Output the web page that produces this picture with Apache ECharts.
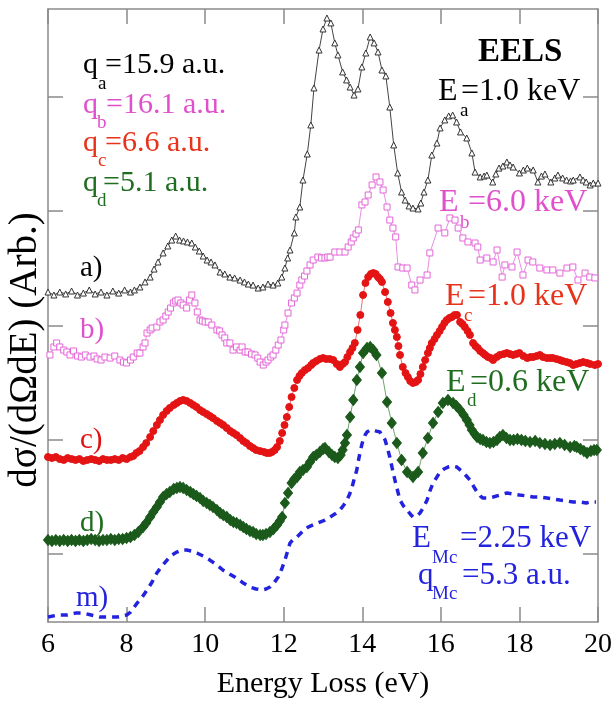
<!DOCTYPE html>
<html>
<head>
<meta charset="utf-8" />
<title>EELS</title>
<script src="https://cdn.jsdelivr.net/npm/echarts@6/dist/echarts.min.js"></script>
<style>
html, body { margin: 0; padding: 0; background: #fff; }
#main { width: 613px; height: 711px; }
</style>
</head>
<body>
<div id="main"></div>
<script>
// energy loss (eV) vs cross section, each curve offset vertically (arb. units)
var yTickValues = [0, 1, 2, 3, 4];

var curveA = [[6.0,2.293],[6.15,2.267],[6.3,2.293],[6.45,2.276],[6.6,2.302],[6.75,2.267],[6.9,2.284],[7.05,2.311],[7.2,2.276],[7.35,2.293],[7.5,2.267],[7.65,2.302],[7.8,2.284],[7.95,2.311],[8.1,2.293],[8.2,2.311],[8.34,2.337],[8.47,2.381],[8.6,2.424],[8.7,2.494],[8.8,2.556],[8.93,2.635],[9.05,2.696],[9.15,2.748],[9.25,2.783],[9.35,2.748],[9.45,2.740],[9.55,2.731],[9.66,2.722],[9.75,2.687],[9.85,2.652],[9.95,2.608],[10.05,2.573],[10.15,2.556],[10.25,2.530],[10.38,2.468],[10.5,2.451],[10.63,2.424],[10.75,2.416],[10.89,2.398],[11.0,2.381],[11.1,2.363],[11.22,2.354],[11.35,2.328],[11.47,2.337],[11.6,2.363],[11.73,2.354],[11.85,2.372],[11.95,2.424],[12.03,2.503],[12.1,2.591],[12.16,2.661],[12.27,2.810],[12.31,2.950],[12.41,3.037],[12.49,3.273],[12.6,3.501],[12.69,3.755],[12.77,4.079],[12.9,4.411],[13.0,4.595],[13.1,4.691],[13.2,4.648],[13.3,4.473],[13.38,4.368],[13.5,4.219],[13.6,4.149],[13.69,4.087],[13.79,4.017],[13.89,4.070],[13.99,4.263],[14.09,4.385],[14.2,4.525],[14.3,4.473],[14.4,4.394],[14.5,4.236],[14.6,4.184],[14.7,3.912],[14.8,3.580],[14.9,3.335],[15.0,3.168],[15.09,3.098],[15.19,3.046],[15.29,3.028],[15.42,3.020],[15.49,3.072],[15.57,3.168],[15.67,3.273],[15.77,3.492],[15.9,3.597],[15.98,3.729],[16.1,3.799],[16.2,3.834],[16.3,3.842],[16.4,3.781],[16.5,3.694],[16.66,3.641],[16.79,3.510],[16.87,3.343],[17.0,3.300],[17.1,3.308],[17.17,3.317],[17.32,3.256],[17.4,3.326],[17.48,3.378],[17.58,3.396],[17.68,3.431],[17.76,3.405],[17.84,3.387],[18.0,3.335],[18.1,3.361],[18.2,3.378],[18.35,3.361],[18.47,3.256],[18.56,3.308],[18.65,3.326],[18.8,3.256],[18.9,3.291],[18.98,3.317],[19.1,3.291],[19.2,3.273],[19.3,3.265],[19.37,3.273],[19.54,3.300],[19.62,3.273],[19.7,3.256],[19.8,3.230],[19.88,3.247],[20.0,3.247]];

var curveB = [[6.05,1.742],[6.15,1.812],[6.22,1.847],[6.3,1.812],[6.4,1.785],[6.48,1.768],[6.56,1.742],[6.65,1.777],[6.75,1.733],[6.85,1.724],[6.95,1.742],[7.07,1.724],[7.17,1.733],[7.25,1.707],[7.35,1.698],[7.45,1.724],[7.58,1.715],[7.7,1.733],[7.83,1.698],[7.92,1.680],[8.0,1.672],[8.1,1.698],[8.17,1.724],[8.27,1.759],[8.34,1.759],[8.42,1.812],[8.47,1.847],[8.52,1.934],[8.6,1.961],[8.65,1.978],[8.77,1.987],[8.85,2.031],[8.93,2.048],[9.0,2.083],[9.06,2.118],[9.12,2.153],[9.19,2.197],[9.25,2.214],[9.31,2.223],[9.38,2.197],[9.44,2.179],[9.53,2.153],[9.6,2.223],[9.66,2.267],[9.74,2.197],[9.8,2.118],[9.87,2.048],[9.93,2.039],[10.0,2.031],[10.08,2.031],[10.17,2.004],[10.3,1.961],[10.37,1.952],[10.43,1.917],[10.5,1.891],[10.55,1.847],[10.63,1.847],[10.71,1.785],[10.8,1.812],[10.89,1.785],[10.94,1.812],[11.02,1.768],[11.09,1.768],[11.18,1.750],[11.27,1.742],[11.34,1.715],[11.4,1.680],[11.48,1.654],[11.55,1.680],[11.6,1.698],[11.67,1.724],[11.73,1.742],[11.8,1.785],[11.86,1.829],[11.93,1.873],[12.0,1.961],[12.03,2.004],[12.11,2.109],[12.2,2.197],[12.27,2.241],[12.34,2.284],[12.41,2.354],[12.46,2.398],[12.53,2.433],[12.59,2.477],[12.67,2.530],[12.75,2.573],[12.87,2.599],[12.96,2.591],[13.05,2.591],[13.12,2.599],[13.18,2.599],[13.3,2.643],[13.43,2.643],[13.56,2.643],[13.64,2.687],[13.72,2.731],[13.77,2.766],[13.84,2.801],[13.9,2.836],[13.99,3.055],[14.07,3.081],[14.15,3.142],[14.25,3.230],[14.35,3.300],[14.45,3.256],[14.53,3.186],[14.63,3.037],[14.7,2.923],[14.78,2.853],[14.85,2.775],[14.91,2.512],[15.03,2.503],[15.14,2.503],[15.26,2.354],[15.34,2.311],[15.47,2.398],[15.65,2.442],[15.72,2.635],[15.93,2.853],[16.1,2.810],[16.23,2.941],[16.36,2.923],[16.44,2.853],[16.56,2.766],[16.69,2.731],[16.87,2.722],[16.94,2.687],[17.0,2.573],[17.17,2.591],[17.33,2.556],[17.43,2.661],[17.56,2.424],[17.63,2.530],[17.81,2.512],[17.94,2.643],[18.09,2.442],[18.22,2.573],[18.34,2.556],[18.52,2.503],[18.7,2.486],[18.85,2.486],[19.03,2.459],[19.21,2.503],[19.36,2.512],[19.49,2.398],[19.67,2.459],[19.79,2.424],[19.92,2.416]];

var curveC = [[6.0,0.849],[6.1,0.840],[6.2,0.849],[6.3,0.831],[6.4,0.823],[6.5,0.840],[6.6,0.831],[6.7,0.823],[6.8,0.831],[6.9,0.814],[7.0,0.823],[7.1,0.831],[7.2,0.823],[7.3,0.814],[7.4,0.831],[7.5,0.823],[7.6,0.823],[7.7,0.831],[7.8,0.823],[7.9,0.840],[8.0,0.831],[8.1,0.849],[8.17,0.858],[8.25,0.884],[8.33,0.901],[8.42,0.936],[8.5,0.971],[8.6,1.024],[8.68,1.076],[8.77,1.129],[8.85,1.173],[8.93,1.217],[9.02,1.252],[9.1,1.278],[9.2,1.304],[9.28,1.322],[9.36,1.339],[9.44,1.348],[9.53,1.339],[9.62,1.322],[9.7,1.304],[9.78,1.287],[9.87,1.260],[9.95,1.243],[10.04,1.225],[10.12,1.208],[10.2,1.190],[10.3,1.164],[10.38,1.147],[10.46,1.129],[10.55,1.103],[10.64,1.076],[10.72,1.059],[10.8,1.041],[10.89,1.015],[10.97,0.989],[11.05,0.971],[11.14,0.945],[11.22,0.928],[11.3,0.910],[11.4,0.901],[11.5,0.893],[11.57,0.884],[11.64,0.884],[11.7,0.893],[11.77,0.910],[11.83,0.936],[11.9,0.989],[11.96,1.059],[12.02,1.129],[12.08,1.199],[12.14,1.287],[12.2,1.374],[12.27,1.453],[12.34,1.523],[12.4,1.558],[12.46,1.584],[12.54,1.610],[12.62,1.628],[12.7,1.654],[12.75,1.672],[12.83,1.689],[12.92,1.707],[13.0,1.715],[13.08,1.707],[13.17,1.707],[13.26,1.698],[13.35,1.663],[13.43,1.637],[13.5,1.663],[13.56,1.680],[13.62,1.724],[13.69,1.768],[13.75,1.803],[13.81,1.847],[13.88,1.961],[13.95,2.092],[14.02,2.267],[14.08,2.372],[14.15,2.424],[14.22,2.451],[14.28,2.459],[14.34,2.451],[14.4,2.424],[14.45,2.407],[14.5,2.381],[14.58,2.293],[14.65,2.206],[14.72,2.109],[14.78,2.022],[14.83,1.961],[14.88,1.899],[14.92,1.820],[14.96,1.742],[15.03,1.637],[15.1,1.584],[15.16,1.549],[15.22,1.514],[15.29,1.497],[15.36,1.505],[15.42,1.523],[15.48,1.575],[15.54,1.637],[15.6,1.698],[15.67,1.759],[15.72,1.803],[15.77,1.847],[15.84,1.882],[15.9,1.917],[15.97,1.952],[16.03,1.987],[16.09,2.022],[16.15,2.048],[16.22,2.066],[16.28,2.074],[16.35,2.092],[16.41,2.092],[16.49,2.031],[16.55,2.013],[16.61,1.987],[16.68,1.952],[16.74,1.917],[16.82,1.847],[16.88,1.820],[16.94,1.803],[17.0,1.777],[17.07,1.759],[17.13,1.742],[17.2,1.724],[17.27,1.715],[17.33,1.698],[17.42,1.724],[17.5,1.742],[17.6,1.750],[17.68,1.759],[17.76,1.750],[17.84,1.742],[17.92,1.750],[18.0,1.759],[18.1,1.733],[18.2,1.715],[18.28,1.724],[18.35,1.724],[18.44,1.733],[18.52,1.742],[18.6,1.724],[18.7,1.715],[18.78,1.715],[18.85,1.715],[18.94,1.707],[19.03,1.698],[19.1,1.689],[19.2,1.680],[19.28,1.672],[19.37,1.654],[19.45,1.663],[19.54,1.672],[19.62,1.680],[19.72,1.672],[19.8,1.663],[19.92,1.654],[20.0,1.663]];

var curveD = [[6.0,0.122],[6.1,0.114],[6.2,0.122],[6.3,0.114],[6.4,0.122],[6.5,0.114],[6.6,0.122],[6.7,0.114],[6.8,0.122],[6.9,0.114],[7.0,0.122],[7.1,0.131],[7.2,0.122],[7.3,0.114],[7.4,0.122],[7.5,0.122],[7.6,0.131],[7.7,0.122],[7.8,0.131],[7.9,0.131],[8.0,0.140],[8.1,0.149],[8.2,0.166],[8.3,0.192],[8.42,0.236],[8.5,0.271],[8.6,0.324],[8.68,0.367],[8.77,0.411],[8.85,0.455],[8.93,0.499],[9.02,0.525],[9.1,0.543],[9.2,0.569],[9.28,0.578],[9.36,0.586],[9.44,0.578],[9.53,0.560],[9.62,0.543],[9.7,0.525],[9.78,0.508],[9.87,0.490],[9.95,0.464],[10.04,0.446],[10.12,0.429],[10.2,0.411],[10.3,0.385],[10.38,0.359],[10.46,0.341],[10.55,0.324],[10.64,0.297],[10.72,0.280],[10.8,0.271],[10.89,0.254],[10.97,0.236],[11.05,0.219],[11.14,0.201],[11.22,0.192],[11.3,0.175],[11.4,0.166],[11.47,0.166],[11.55,0.175],[11.65,0.192],[11.74,0.219],[11.83,0.254],[11.9,0.289],[11.96,0.324],[12.03,0.446],[12.11,0.534],[12.2,0.621],[12.27,0.656],[12.34,0.674],[12.41,0.718],[12.49,0.735],[12.59,0.761],[12.67,0.805],[12.75,0.849],[12.83,0.866],[12.92,0.893],[13.0,0.919],[13.05,0.928],[13.15,0.893],[13.23,0.866],[13.3,0.849],[13.38,0.840],[13.45,0.866],[13.5,0.910],[13.56,0.971],[13.61,1.041],[13.69,1.199],[13.77,1.348],[13.86,1.523],[13.94,1.637],[14.02,1.759],[14.12,1.803],[14.2,1.812],[14.28,1.785],[14.36,1.742],[14.5,1.584],[14.63,1.330],[14.75,1.147],[14.88,0.971],[15.0,0.823],[15.14,0.718],[15.29,0.674],[15.42,0.718],[15.54,0.884],[15.67,1.015],[15.8,1.147],[15.93,1.243],[16.05,1.322],[16.18,1.348],[16.31,1.322],[16.4,1.295],[16.49,1.260],[16.58,1.217],[16.66,1.173],[16.73,1.129],[16.79,1.085],[16.86,1.050],[16.92,1.024],[17.0,1.006],[17.07,0.998],[17.16,0.980],[17.25,0.971],[17.34,0.980],[17.43,0.998],[17.5,1.024],[17.58,1.041],[17.67,1.015],[17.76,0.998],[17.85,0.998],[17.95,1.006],[18.05,0.998],[18.15,0.989],[18.27,0.980],[18.4,0.989],[18.52,0.971],[18.65,0.963],[18.78,0.954],[18.9,0.963],[19.03,0.971],[19.15,0.954],[19.29,0.936],[19.4,0.945],[19.46,0.936],[19.55,0.919],[19.64,0.901],[19.72,0.884],[19.82,0.901],[19.9,0.910],[19.97,0.910]];

var curveM = [[6.0,-0.552],[6.25,-0.534],[6.48,-0.534],[6.7,-0.517],[6.9,-0.517],[7.1,-0.534],[7.32,-0.552],[7.55,-0.552],[7.76,-0.552],[7.9,-0.543],[8.0,-0.534],[8.1,-0.508],[8.27,-0.429],[8.4,-0.377],[8.52,-0.315],[8.65,-0.245],[8.77,-0.166],[8.9,-0.105],[9.03,-0.053],[9.15,-0.009],[9.28,0.017],[9.4,0.035],[9.53,0.035],[9.66,0.026],[9.79,0.009],[9.95,-0.018],[10.12,-0.053],[10.3,-0.096],[10.45,-0.140],[10.62,-0.175],[10.8,-0.210],[10.97,-0.254],[11.14,-0.289],[11.3,-0.306],[11.45,-0.315],[11.55,-0.306],[11.65,-0.289],[11.75,-0.254],[11.86,-0.201],[11.95,-0.131],[12.03,-0.053],[12.1,0.026],[12.16,0.096],[12.25,0.131],[12.34,0.149],[12.49,0.201],[12.62,0.236],[12.8,0.262],[12.92,0.280],[13.05,0.297],[13.18,0.324],[13.3,0.350],[13.43,0.385],[13.53,0.429],[13.61,0.472],[13.68,0.525],[13.74,0.586],[13.8,0.665],[13.86,0.735],[13.9,0.814],[13.94,0.884],[13.98,0.945],[14.02,0.998],[14.07,1.041],[14.12,1.068],[14.2,1.085],[14.28,1.085],[14.36,1.076],[14.45,1.068],[14.52,1.033],[14.58,0.998],[14.64,0.928],[14.7,0.849],[14.76,0.753],[14.83,0.648],[14.9,0.551],[14.96,0.472],[15.05,0.420],[15.14,0.385],[15.22,0.350],[15.29,0.324],[15.38,0.332],[15.47,0.359],[15.56,0.411],[15.65,0.472],[15.72,0.551],[15.8,0.621],[15.9,0.674],[15.98,0.718],[16.08,0.744],[16.18,0.761],[16.3,0.770],[16.41,0.761],[16.5,0.735],[16.56,0.718],[16.65,0.683],[16.74,0.648],[16.83,0.595],[16.92,0.543],[17.0,0.508],[17.07,0.490],[17.2,0.490],[17.33,0.499],[17.5,0.516],[17.68,0.534],[17.85,0.525],[18.0,0.516],[18.2,0.508],[18.35,0.499],[18.52,0.499],[18.7,0.490],[18.85,0.481],[19.03,0.472],[19.2,0.464],[19.37,0.455],[19.55,0.455],[19.7,0.446],[19.8,0.455],[19.95,0.455]];

var SERIF = '"Liberation Serif", "Times New Roman", serif';
var BLACK = '#000', PINK = '#e050cc', RED = '#e8321a', GREEN = '#1f6e1f', BLUE = '#2323dd';

// text pieces: [text, left x, baseline y, size, color, bold]
var notes = [
	['q', 83, 75, 30, BLACK], ['a', 98, 91, 19, BLACK], ['=15.9 a.u.', 105, 75, 30, BLACK],
	['q', 83, 115, 30, PINK], ['b', 97, 130, 19, PINK], ['=16.1 a.u.', 106, 115, 30, PINK],
	['q', 83, 153, 30, RED], ['c', 98, 168, 19, RED], ['=6.6 a.u.', 105, 153, 30, RED],
	['q', 83, 193, 30, GREEN], ['d', 97, 208, 19, GREEN], ['=5.1 a.u.', 103, 193, 30, GREEN],
	['EELS', 478, 63, 33, BLACK, true],
	['E', 438, 102, 32, BLACK], ['a', 460, 118, 19, BLACK], ['=1.0 keV', 461, 102, 32, BLACK],
	['E', 439, 213, 32, PINK], ['b', 460, 230, 19, PINK], ['=6.0 keV', 468, 213, 32, PINK],
	['E', 445, 307, 32, RED], ['c', 464, 323, 19, RED], ['=1.0 keV', 468, 307, 32, RED],
	['E', 446, 393, 32, GREEN], ['d', 467, 408, 19, GREEN], ['=0.6 keV', 470, 393, 32, GREEN],
	['E', 412, 548, 31, BLUE], ['Mc', 432, 565, 19, BLUE], ['=2.25 keV', 460, 548, 31, BLUE],
	['q', 418, 585, 31, BLUE], ['Mc', 432, 601, 19, BLUE], ['=5.3 a.u.', 462, 585, 31, BLUE],
	['a)', 80, 278, 29, BLACK], ['b)', 80, 340, 29, PINK], ['c)', 80, 450, 29, '#e01010'],
	['d)', 80, 533, 29, GREEN], ['m)', 76, 608, 29, BLUE]
];

// top-aligned text: baseline sits about 0.82 em under the top
var graphics = notes.map(function (n) {
	return {
		type: 'text',
		x: n[1],
		y: n[2] - Math.round(0.82 * n[3]),
		silent: true,
		style: {
			text: n[0],
			fill: n[4],
			font: (n[5] ? 'bold ' : '') + n[3] + 'px ' + SERIF,
			align: 'left',
			verticalAlign: 'top'
		}
	};
});
graphics.push({
	type: 'text',
	x: 26,
	y: 350,
	rotation: Math.PI / 2,
	silent: true,
	style: {
		text: 'dσ/(dΩdE) (Arb.)',
		fill: '#000',
		font: '39px ' + SERIF,
		align: 'center',
		verticalAlign: 'middle'
	}
});

var frame = { show: true, onZero: false, lineStyle: { color: '#8a8a8a', width: 1.5 } };
var tick = { show: true, inside: true, length: 15, lineStyle: { color: '#8a8a8a', width: 1.5 } };

function yAxisOf(pos) {
	return {
		type: 'value', position: pos, min: -0.595, max: 4.77,
		axisLine: frame,
		axisTick: { show: true, inside: true, length: 15, customValues: yTickValues, lineStyle: tick.lineStyle },
		axisLabel: { show: false },
		splitLine: { show: false }
	};
}
function xAxisOf(pos, labels) {
	return {
		type: 'value', position: pos, min: 6, max: 20, interval: 2,
		axisLine: frame, axisTick: tick,
		axisLabel: { show: labels, color: '#000', fontFamily: SERIF, fontSize: 28, margin: 9 },
		splitLine: { show: false },
		name: labels ? 'Energy Loss (eV)' : '',
		nameLocation: 'middle', nameGap: 47,
		nameTextStyle: { color: '#000', fontFamily: SERIF, fontSize: 30 }
	};
}

function markerSeries(data, symbol, size, fill, border, lineColor) {
	return {
		type: 'line', data: data, symbol: symbol, symbolSize: size, showAllSymbol: true,
		lineStyle: { color: lineColor, width: 1 },
		itemStyle: { color: fill, borderColor: border, borderWidth: 1 },
		emphasis: { disabled: true }
	};
}

var myChart = echarts.init(document.getElementById('main'), null, { renderer: 'canvas' });
var option = {
	animation: false,
	backgroundColor: '#fff',
	grid: { left: 48, right: 15, top: 9, bottom: 89, containLabel: false, outerBoundsMode: 'none' },
	xAxis: [xAxisOf('bottom', true), xAxisOf('top', false)],
	yAxis: [yAxisOf('left'), yAxisOf('right')],
	series: [
		{
			type: 'line', data: curveM, showSymbol: false,
			lineStyle: { color: BLUE, width: 3.5, type: [7, 6] },
			emphasis: { disabled: true }
		},
		markerSeries(curveD, 'diamond', [9, 11], '#1b5a1b', '#1b5a1b', '#6fa46f'),
		markerSeries(curveC, 'circle', 7, '#e41414', '#e41414', '#f07070'),
		markerSeries(curveB, 'rect', 6, '#fff', '#e466d8', '#ea8ee2'),
		markerSeries(curveA, 'triangle', 6, '#fff', '#333', '#444')
	],
	graphic: { elements: graphics }
};
myChart.setOption(option);
</script>
</body>
</html>
